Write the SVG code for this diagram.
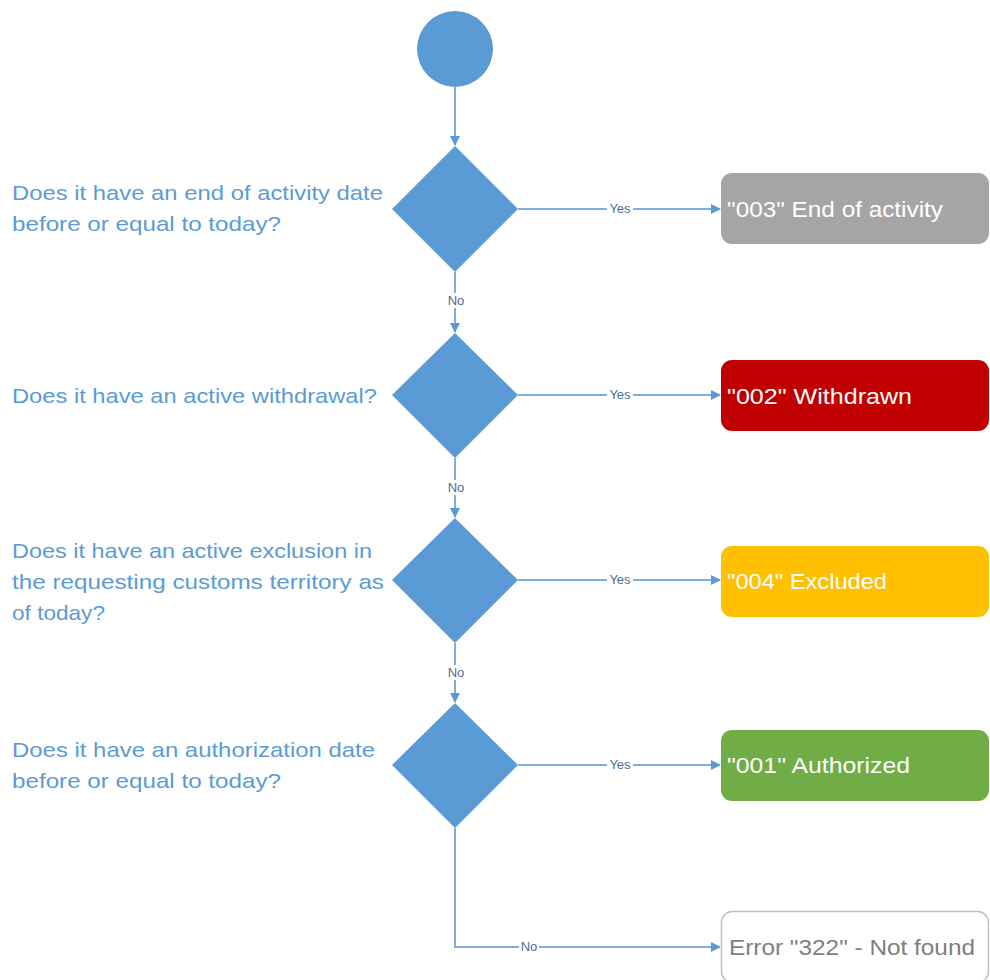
<svg xmlns="http://www.w3.org/2000/svg" width="990" height="980" viewBox="0 0 990 980">
<defs>
<style>
.q{font-family:"Liberation Sans",Arial,sans-serif;font-size:21px;fill:#5b9bd5}
.bt{font-family:"Liberation Sans",Arial,sans-serif;font-size:22px;fill:#ffffff}
.lbl{font-family:"Liberation Sans",Arial,sans-serif;font-size:13px;fill:#4e6e95;text-anchor:middle}
.ln{stroke:#7eaedd;stroke-width:2;fill:none}
.dm{fill:#5b9bd5}
</style>
<marker id="ah" markerWidth="10" markerHeight="10" refX="9" refY="5" orient="auto" markerUnits="userSpaceOnUse">
<path d="M0,0 L10,5 L0,10 Z" fill="#5b9bd5"/>
</marker>
<marker id="av" markerWidth="12" markerHeight="10" refX="9" refY="5" orient="auto" markerUnits="userSpaceOnUse">
<path d="M0,0 L10,5 L0,10 Z" fill="#5b9bd5"/>
</marker>
</defs>
<rect width="990" height="980" fill="#ffffff"/>
<g id="connectors">
<line class="ln" x1="455" y1="87" x2="455" y2="145" marker-end="url(#av)"/>
<line class="ln" x1="455" y1="272" x2="455" y2="332" marker-end="url(#av)"/>
<line class="ln" x1="455" y1="458" x2="455" y2="517" marker-end="url(#av)"/>
<line class="ln" x1="455" y1="643" x2="455" y2="702" marker-end="url(#av)"/>
<line class="ln" x1="518" y1="209" x2="720" y2="209" marker-end="url(#ah)"/>
<line class="ln" x1="518" y1="395" x2="720" y2="395" marker-end="url(#ah)"/>
<line class="ln" x1="518" y1="580" x2="720" y2="580" marker-end="url(#ah)"/>
<line class="ln" x1="518" y1="765" x2="720" y2="765" marker-end="url(#ah)"/>
<polyline class="ln" points="455,828 455,947 720,947" marker-end="url(#ah)"/>
<rect x="607" y="201" width="26" height="15" fill="#fff"/>
<text class="lbl" x="620" y="213">Yes</text>
<rect x="607" y="387" width="26" height="15" fill="#fff"/>
<text class="lbl" x="620" y="399">Yes</text>
<rect x="607" y="572" width="26" height="15" fill="#fff"/>
<text class="lbl" x="620" y="584">Yes</text>
<rect x="607" y="757" width="26" height="15" fill="#fff"/>
<text class="lbl" x="620" y="769">Yes</text>
<rect x="446" y="293" width="20" height="15" fill="#fff"/>
<text class="lbl" x="456" y="305">No</text>
<rect x="446" y="480" width="20" height="15" fill="#fff"/>
<text class="lbl" x="456" y="492">No</text>
<rect x="446" y="665" width="20" height="15" fill="#fff"/>
<text class="lbl" x="456" y="677">No</text>
<rect x="519" y="939" width="20" height="15" fill="#fff"/>
<text class="lbl" x="529" y="951">No</text>
</g>
<g id="start"><circle cx="455" cy="49" r="38" fill="#5b9bd5"/></g>
<g id="d1">
<polygon class="dm" points="455,146 518,209 455,272 392,209"/>
<text class="q" x="12" y="200" textLength="371" lengthAdjust="spacingAndGlyphs">Does it have an end of activity date</text>
<text class="q" x="12" y="231" textLength="269" lengthAdjust="spacingAndGlyphs">before or equal to today?</text>
</g>
<g id="d2">
<polygon class="dm" points="455,333 518,395 455,458 392,395"/>
<text class="q" x="12" y="403" textLength="365" lengthAdjust="spacingAndGlyphs">Does it have an active withdrawal?</text>
</g>
<g id="d3">
<polygon class="dm" points="455,518 518,580 455,643 392,580"/>
<text class="q" x="12" y="558" textLength="360" lengthAdjust="spacingAndGlyphs">Does it have an active exclusion in</text>
<text class="q" x="12" y="589" textLength="372" lengthAdjust="spacingAndGlyphs">the requesting customs territory as</text>
<text class="q" x="12" y="620" textLength="93" lengthAdjust="spacingAndGlyphs">of today?</text>
</g>
<g id="d4">
<polygon class="dm" points="455,703 518,765 455,828 392,765"/>
<text class="q" x="12" y="757" textLength="363" lengthAdjust="spacingAndGlyphs">Does it have an authorization date</text>
<text class="q" x="12" y="788" textLength="269" lengthAdjust="spacingAndGlyphs">before or equal to today?</text>
</g>
<g id="r003">
<rect x="721" y="173" width="268" height="71" rx="11" fill="#a5a5a5"/>
<text class="bt" x="727" y="217" textLength="216" lengthAdjust="spacingAndGlyphs">"003" End of activity</text>
</g>
<g id="r002">
<rect x="721" y="360" width="268" height="71" rx="11" fill="#c00000"/>
<text class="bt" x="727" y="404" textLength="185" lengthAdjust="spacingAndGlyphs">"002" Withdrawn</text>
</g>
<g id="r004">
<rect x="721" y="546" width="268" height="71" rx="11" fill="#ffc000"/>
<text class="bt" x="727" y="589" textLength="160" lengthAdjust="spacingAndGlyphs">"004" Excluded</text>
</g>
<g id="r001">
<rect x="721" y="730" width="268" height="71" rx="11" fill="#70ad47"/>
<text class="bt" x="727" y="773" textLength="183" lengthAdjust="spacingAndGlyphs">"001" Authorized</text>
</g>
<g id="r322">
<rect x="721.5" y="911.5" width="267" height="71" rx="11" fill="#ffffff" stroke="#bfbfbf" stroke-width="1.5"/>
<text class="bt" x="729" y="955" textLength="246" lengthAdjust="spacingAndGlyphs" style="fill:#7f7f7f">Error "322" - Not found</text>
</g>
</svg>
